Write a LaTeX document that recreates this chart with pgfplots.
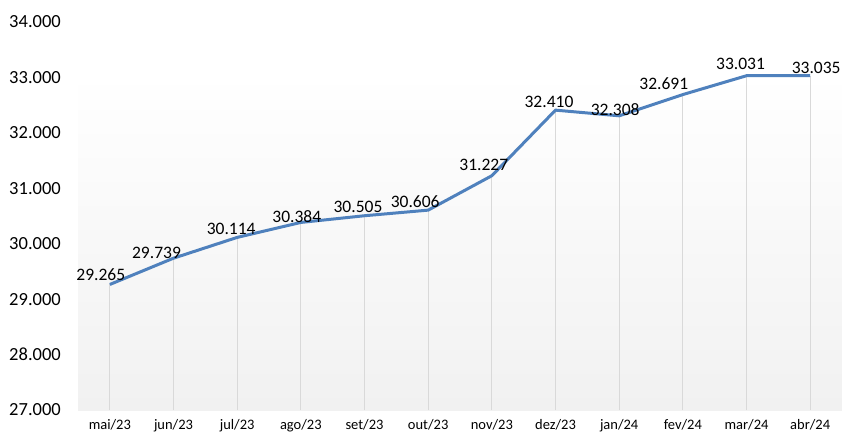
\documentclass[border=0pt]{standalone}
\usepackage{pgfplots}
\pgfplotsset{compat=1.18}
\usepackage{pgfplotstable}
\usepackage{fontspec}
\setmainfont{Carlito}
\definecolor{lineblue}{RGB}{79,129,189}
\definecolor{dropgray}{RGB}{217,217,217}
\definecolor{bggray}{RGB}{241,241,241}
\pgfplotstableread{
x y dx dy
0 29265 -9 10
1 29739 -17 5
2 30114 -6 9
3 30384 -4 6
4 30505 -6.5 9
5 30606 -13 8.5
6 31227 -8 11
7 32410 -6.5 8
8 32308 -4 6
9 32691 -19 10.5
10 33031 -6 12
11 33035 6 7.5
}\datatable
\begin{document}
\begin{tikzpicture}
\path[use as bounding box] (0pt,-432pt) rectangle (842pt,0pt);
\begin{axis}[
  at={(78pt,-410pt)}, anchor=south west,
  scale only axis, width=764pt, height=388pt,
  xmin=-0.5, xmax=11.5, ymin=27000, ymax=34000,
  axis line style={draw=none},
  xtick={0,...,11},
  xticklabels={mai/23,jun/23,jul/23,ago/23,set/23,out/23,nov/23,dez/23,jan/24,fev/24,mar/24,abr/24},
  xtick pos=bottom, ytick pos=left,
  ytick={27000,28000,...,34000},
  scaled y ticks=false,
  /pgf/number format/.cd, fixed, precision=0, 1000 sep={.}, assume math mode=true,
  /pgfplots/.cd,
  xtick style={draw=none}, ytick style={draw=none},
  extra x ticks={-0.5,0.5,...,11.5},
  extra x tick labels={},
  extra x tick style={tick style={draw=black!20, line width=0.8pt}, tick align=outside, major tick length=4pt},
  xticklabel style={font=\fontsize{14.5}{16}\selectfont, anchor=north, inner sep=0pt, yshift=-9.5pt},
  yticklabel style={font=\fontsize{18.5}{20}\selectfont, anchor=east, inner sep=0pt, xshift=-17pt},
  clip mode=individual,
]
\fill[top color=white, bottom color=bggray] (axis cs:-0.5,27000) rectangle (axis cs:11.5,33080);
\addplot[ycomb, draw=dropgray, line width=1pt, mark=none] table[x=x, y=y] {\datatable};
\addplot[draw=lineblue, line width=3pt, mark=none,
  nodes near coords,
  visualization depends on={\thisrow{dx}\as\dx},
  visualization depends on={\thisrow{dy}\as\dy},
  every node near coord/.append style={anchor=center, inner sep=0pt, text=black,
    font=\fontsize{17.5}{19}\selectfont, xshift=\dx pt, yshift=\dy pt},
] table[x=x, y=y] {\datatable};
\end{axis}
\end{tikzpicture}
\end{document}
